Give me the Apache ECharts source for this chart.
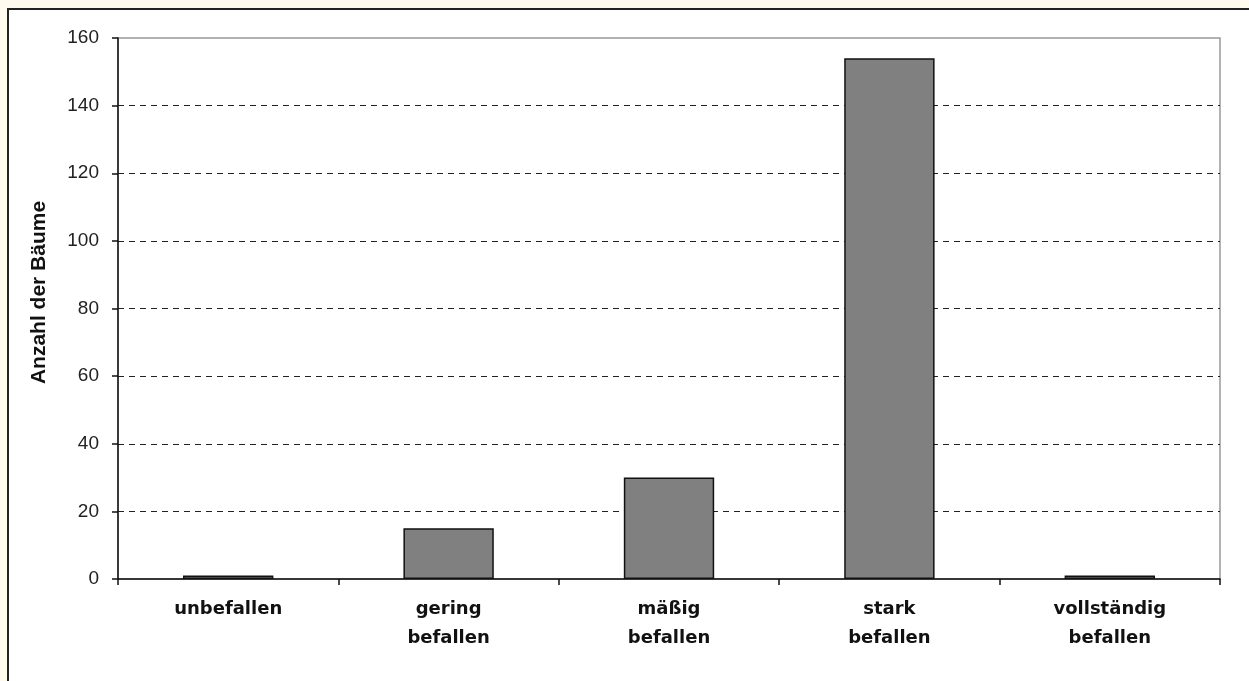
<!DOCTYPE html>
<html lang="de">
<head>
    <meta charset="UTF-8">
    <title>Anzahl der Bäume</title>
    <script src="https://cdn.jsdelivr.net/npm/echarts@6/dist/echarts.min.js"></script>
    <style>
        html, body { margin: 0; padding: 0; width: 1249px; height: 681px; overflow: hidden; background: #fffaee; }
        #frame { position: absolute; left: 7px; top: 8px; width: 1242px; height: 673px;
                 border-top: 2px solid #222; border-left: 2px solid #222; background: #fff; box-sizing: border-box; }
        #chart { position: absolute; left: 0; top: 0; width: 1249px; height: 681px; }
    </style>
</head>
<body>
<div id="frame"></div>
<div id="chart"></div>
<script>
    // Kategorien und Werte
    var categories = ['unbefallen', 'gering\nbefallen', 'mäßig\nbefallen', 'stark\nbefallen', 'vollständig\nbefallen'];
    var counts = [1, 15, 30, 154, 1];
    var yTicks = { min: 0, max: 160, interval: 20 };

    var sansFont = '"Liberation Sans", Arial, sans-serif';

    var chart = echarts.init(document.getElementById('chart'));
    chart.setOption({
        animation: false,
        backgroundColor: 'transparent',
        grid: {
            left: 118, right: 29, top: 38, bottom: 102,
            show: true, borderColor: '#999', borderWidth: 1.5, backgroundColor: 'transparent'
        },
        xAxis: {
            type: 'category',
            data: categories,
            axisLine: { lineStyle: { color: '#111', width: 1.5 } },
            axisTick: { show: true, length: 6, lineStyle: { color: '#111', width: 1.5 } },
            axisLabel: {
                color: '#111', fontFamily: '"DejaVu Sans", sans-serif',
                fontSize: 18, fontWeight: 'bold', lineHeight: 29, margin: 16
            }
        },
        yAxis: {
            type: 'value',
            min: yTicks.min, max: yTicks.max, interval: yTicks.interval,
            name: 'Anzahl der Bäume',
            nameLocation: 'middle',
            nameGap: 68,
            nameTextStyle: {
                color: '#111', fontFamily: sansFont,
                fontSize: 21, fontWeight: 'bold', padding: [0, 0, 0, 32]
            },
            axisLine: { show: true, lineStyle: { color: '#111', width: 1.5 } },
            axisTick: { show: true, length: 6, lineStyle: { color: '#111', width: 1.5 } },
            axisLabel: { color: '#222', fontFamily: sansFont, fontSize: 19, margin: 19 },
            splitLine: { showMinLine: false, showMaxLine: false, lineStyle: { color: '#222', type: [6, 5], width: 1.2 } }
        },
        series: [{
            type: 'bar',
            data: counts,
            barWidth: '41%',
            itemStyle: { color: '#808080', borderColor: '#111', borderWidth: 1.5 }
        }]
    });
</script>
</body>
</html>
